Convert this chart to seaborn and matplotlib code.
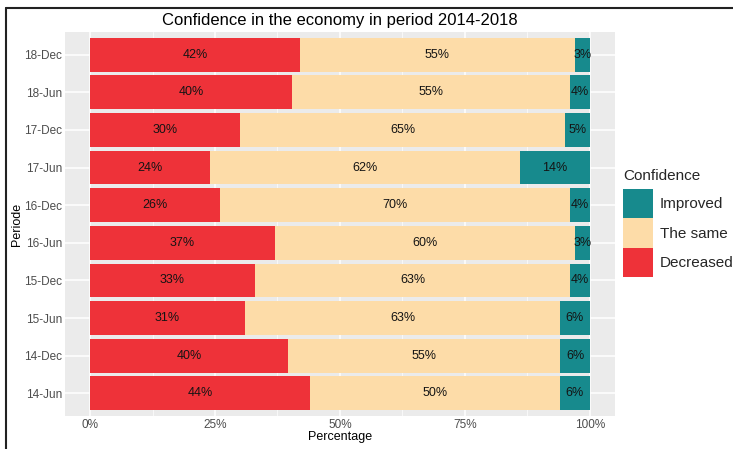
import matplotlib
matplotlib.use("Agg")
import matplotlib.pyplot as plt
from matplotlib.patches import Patch
from matplotlib.lines import Line2D
import seaborn as sns
import numpy as np
import pandas as pd

periods = ["18-Dec", "18-Jun", "17-Dec", "17-Jun", "16-Dec",
           "16-Jun", "15-Dec", "15-Jun", "14-Dec", "14-Jun"]
decreased = [42, 40, 30, 24, 26, 37, 33, 31, 40, 44]
the_same = [55, 55, 65, 62, 70, 60, 63, 63, 55, 50]
improved = [3, 4, 5, 14, 4, 3, 4, 6, 6, 6]
x_ticks = [0, 0.25, 0.5, 0.75, 1.0]
x_ticklabels = ["0%", "25%", "50%", "75%", "100%"]

c_red = "#EE3239"
c_cream = "#FDDCA8"
c_teal = "#178A8D"

sns.set_theme(style="darkgrid", rc={
    "axes.facecolor": "#EBEBEB",
    "grid.color": "white",
    "axes.edgecolor": "none",
})
plt.rcParams["font.family"] = ["Liberation Sans", "DejaVu Sans"]

df = pd.DataFrame({"Periode": periods, "Decreased": decreased,
                   "The same": the_same, "Improved": improved})
tot = df[["Decreased", "The same", "Improved"]].sum(axis=1)
df["p_dec"] = df["Decreased"] / tot
df["p_same"] = df["The same"] / tot
df["p_imp"] = df["Improved"] / tot
df["c1"] = df["p_dec"]
df["c2"] = df["p_dec"] + df["p_same"]
df["c3"] = df["c2"] + df["p_imp"]

fig = plt.figure(figsize=(7.33, 4.49), dpi=100)
ax = fig.add_axes([65 / 733, 1 - 416 / 449, 550 / 733, 384 / 449])

for col, colr in [("c3", c_teal), ("c2", c_cream), ("c1", c_red)]:
    sns.barplot(data=df, x=col, y="Periode", order=periods, orient="h",
                color=colr, width=0.9, saturation=1, ax=ax, linewidth=0)

# labels
for i, row in df.iterrows():
    segs = [(0, row["c1"], row["Decreased"]),
            (row["c1"], row["c2"], row["The same"]),
            (row["c2"], row["c3"], row["Improved"])]
    for a, b, v in segs:
        ax.text((a + b) / 2, i, f"{v}%", ha="center", va="center",
                fontsize=9, color="#141414")

ax.set_xlim(-0.05, 1.05)
ax.set_ylim(9.6, -0.6)
ax.set_xticks(x_ticks)
ax.set_xticklabels(x_ticklabels)
ax.set_xticks([0.125, 0.375, 0.625, 0.875], minor=True)
ax.grid(which="major", color="white", linewidth=1.1)
ax.grid(which="minor", axis="x", color="white", linewidth=0.5)
ax.tick_params(axis="both", which="major", labelsize=8.5, labelcolor="#4D4D4D",
               length=0, pad=2)
ax.tick_params(axis="both", which="minor", length=0)
ax.set_xlabel("Percentage", fontsize=9, color="black", labelpad=0)
ax.set_ylabel("Periode", fontsize=9, color="black", labelpad=1)
ax.set_title("Confidence in the economy in period 2014-2018", fontsize=12,
             color="black", pad=5)

handles = [Patch(facecolor=c_teal, edgecolor="none"),
           Patch(facecolor=c_cream, edgecolor="none"),
           Patch(facecolor=c_red, edgecolor="none")]
leg = fig.legend(handles, ["Improved", "The same", "Decreased"],
                 title="Confidence", loc="upper left",
                 bbox_to_anchor=(623 / 733, 1 - 169 / 449),
                 frameon=False, fontsize=11, title_fontsize=11,
                 handlelength=1.95, handleheight=2.6, labelspacing=0.0,
                 handletextpad=0.45, borderpad=0, borderaxespad=0,
                 alignment="left")
leg._legend_box.sep = 4

# frame lines of the screenshot
fig.add_artist(Line2D([6 / 733, 1], [1 - 8 / 449, 1 - 8 / 449],
                      color="#222222", linewidth=1.5, transform=fig.transFigure))
fig.add_artist(Line2D([6 / 733, 6 / 733], [0, 1 - 8 / 449],
                      color="#222222", linewidth=1.5, transform=fig.transFigure))

fig.savefig("out.png", dpi=100)
